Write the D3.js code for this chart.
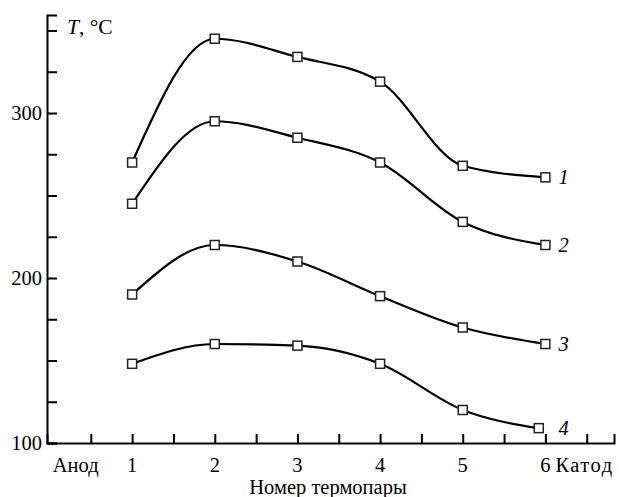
<!DOCTYPE html>
<html>
<head>
<meta charset="utf-8">
<script src="https://cdn.jsdelivr.net/npm/d3@7"></script>
<style>
  html, body { margin: 0; padding: 0; background: #fff; }
  text { font-family: "Liberation Serif", "DejaVu Serif", serif; fill: #000; }
</style>
</head>
<body>
<div id="chartDiv" style="width:619px;height:497px"></div>
<script>
// номер термопары
const xs = [1, 2, 3, 4, 5, 6];
const xs4 = [1, 2, 3, 4, 5, 5.92];
// температура, °C
const t1 = [270, 345, 334, 319, 268, 261];
const t2 = [245, 295, 285, 270, 234, 220];
const t3 = [190, 220, 210, 189, 170, 160];
const t4 = [148, 160, 159, 148, 120, 109];
const seriesNames = ["1", "2", "3", "4"];
const yTicks = [100, 125, 150, 175, 200, 225, 250, 275, 300, 325, 350];
const yLabels = [100, 200, 300];
const xTicks = [0.5, 1, 1.5, 2, 2.5, 3, 3.5, 4, 4.5, 5, 5.5, 6, 6.5];
const xLabels = [1, 2, 3, 4, 5, 6];

const width = 619, height = 497;
const fs = "20.5px";

const svg = d3.select("#chartDiv").append("svg")
    .attr("width", width)
    .attr("height", height);

const x = d3.scaleLinear().domain([-0.03, 6.83]).range([47, 614]);
const y = d3.scaleLinear().domain([100, 359.4]).range([443, 15]);

// оси
const yAxis = svg.append("g")
    .attr("transform", `translate(${x(-0.03)},0)`)
    .call(d3.axisRight(y).tickValues(yTicks).tickSize(10).tickFormat(""));
const xAxis = svg.append("g")
    .attr("transform", `translate(0,${y(100)})`)
    .call(d3.axisTop(x).tickValues(xTicks).tickSize(9).tickFormat(""));
[yAxis, xAxis].forEach(a => {
  a.select(".domain").attr("stroke", "#000").attr("stroke-width", 2);
  a.selectAll(".tick line").attr("stroke", "#000").attr("stroke-width", 2);
});

svg.append("g").selectAll("text").data(yLabels).enter().append("text")
    .attr("x", 42)
    .attr("y", d => y(d) + 7)
    .attr("text-anchor", "end")
    .style("font-size", fs)
    .text(d => d);

svg.append("g").selectAll("text").data(xLabels).enter().append("text")
    .attr("x", d => x(d))
    .attr("y", 472)
    .attr("text-anchor", "middle")
    .style("font-size", fs)
    .text(d => d);

svg.append("text").attr("x", x(0.04)).attr("y", 472)
    .style("font-size", fs).text("Анод");
svg.append("text").attr("x", x(6) + 10).attr("y", 472)
    .style("font-size", fs).style("letter-spacing", "1.5px").text("Катод");
svg.append("text").attr("x", 328).attr("y", 494)
    .attr("text-anchor", "middle")
    .style("font-size", fs).text("Номер термопары");

const yl = svg.append("text").attr("x", 67).attr("y", 34).style("font-size", "21.5px");
yl.append("tspan").style("font-style", "italic").text("T");
yl.append("tspan").text(", °C");

// кривые
const series = [
  {name: seriesNames[0], xv: xs, tv: t1},
  {name: seriesNames[1], xv: xs, tv: t2},
  {name: seriesNames[2], xv: xs, tv: t3},
  {name: seriesNames[3], xv: xs4, tv: t4}
];

const line = d3.line()
    .x(d => x(d[0]))
    .y(d => y(d[1]))
    .curve(d3.curveMonotoneX);

series.forEach(s => {
  const pts = s.xv.map((v, i) => [v, s.tv[i]]);
  svg.append("path")
      .datum(pts)
      .attr("d", line)
      .attr("fill", "none")
      .attr("stroke", "#000")
      .attr("stroke-width", 2.2);
  svg.append("g").selectAll("rect").data(pts).enter().append("rect")
      .attr("x", d => x(d[0]) - 4.5)
      .attr("y", d => y(d[1]) - 4.5)
      .attr("width", 9)
      .attr("height", 9)
      .attr("fill", "#fff")
      .attr("stroke", "#222")
      .attr("stroke-width", 1.5);
  const last = pts[pts.length - 1];
  svg.append("text")
      .attr("x", x(6) + 13)
      .attr("y", y(last[1]) + 7)
      .style("font-size", fs)
      .style("font-style", "italic")
      .text(s.name);
});
</script>
</body>
</html>
